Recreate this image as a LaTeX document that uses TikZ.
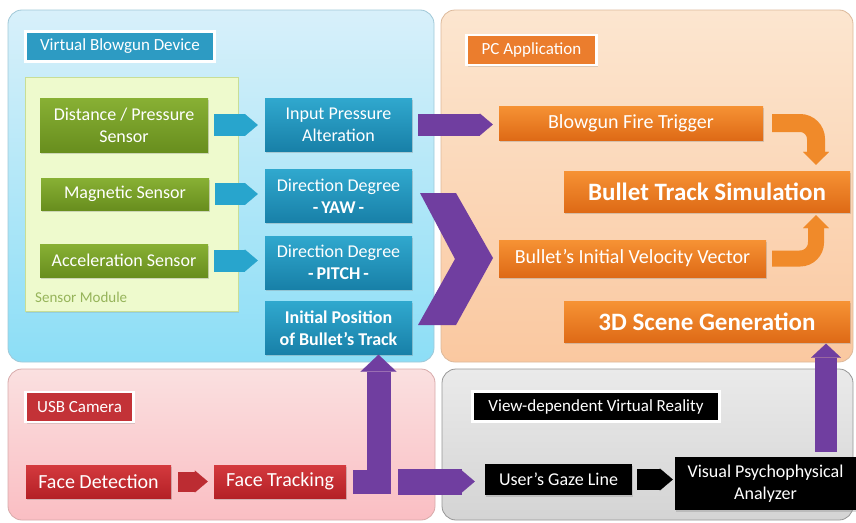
\documentclass[tikz,border=0pt]{standalone}
\usepackage{fontspec}
\setmainfont{Carlito}
\usetikzlibrary{arrows.meta,shadows}
\definecolor{grtop}{RGB}{136,176,52}
\definecolor{grbot}{RGB}{104,142,30}
\definecolor{bltop}{RGB}{48,168,206}
\definecolor{blbot}{RGB}{24,128,168}
\definecolor{ortop}{RGB}{246,146,52}
\definecolor{orbot}{RGB}{222,106,22}
\definecolor{rdtop}{RGB}{212,58,62}
\definecolor{rdbot}{RGB}{180,32,38}
\definecolor{purp}{RGB}{112,62,160}
\definecolor{cyanarrow}{RGB}{40,165,205}
\definecolor{redarrow}{RGB}{188,44,50}
\definecolor{orarrow}{RGB}{240,138,42}
\definecolor{bltag}{RGB}{45,155,195}
\definecolor{ortag}{RGB}{235,125,45}
\definecolor{rdtag}{RGB}{195,50,55}
\definecolor{smtext}{RGB}{150,180,90}
\begin{document}
\begin{tikzpicture}[x=1pt,y=-1pt,
	panel/.style={rounded corners=14pt,line width=0.8pt},
	boxbase/.style={text=white,align=center,inner sep=2pt,
		drop shadow={opacity=.3,shadow xshift=1pt,shadow yshift=-1.5pt}},
	greenbox/.style={boxbase,top color=grtop,bottom color=grbot,minimum width=168pt,
		font=\fontsize{18}{22}\selectfont},
	bluebox/.style={boxbase,top color=bltop,bottom color=blbot,minimum width=147pt,
		minimum height=53pt,font=\fontsize{18}{22}\selectfont},
	orbox/.style={boxbase,top color=ortop,bottom color=orbot,font=\fontsize{20}{24}\selectfont},
	bigbox/.style={orbox,minimum width=286pt,minimum height=41pt,
		font=\fontsize{25}{30}\selectfont\bfseries},
	redbox/.style={boxbase,top color=rdtop,bottom color=rdbot,minimum height=33pt,
		font=\fontsize{20}{24}\selectfont},
	blackbox/.style={boxbase,fill=black,font=\fontsize{18}{22}\selectfont},
	grouptag/.style={draw=white,line width=2.5pt,text=white,inner sep=2pt,minimum height=30pt,
		font=\fontsize{17}{20}\selectfont,
		drop shadow={opacity=.25,shadow xshift=1pt,shadow yshift=-1.5pt}},
	blockarrow/.style={#1,line width=22pt,-{Triangle[length=13pt,width=22pt,line width=.1pt]}}]
\useasboundingbox (0,0) rectangle (856,522);
\path[panel,top color={rgb,255:red,216;green,240;blue,250},bottom color={rgb,255:red,140;green,222;blue,246},
	draw={rgb,255:red,160;green,200;blue,215}] (8,10) rectangle (434,362);
\path[panel,top color={rgb,255:red,252;green,230;blue,208},bottom color={rgb,255:red,250;green,200;blue,160},
	draw={rgb,255:red,220;green,185;blue,155}] (441,10) rectangle (853,362);
\path[panel,top color={rgb,255:red,250;green,224;blue,224},bottom color={rgb,255:red,250;green,190;blue,195},
	draw={rgb,255:red,215;green,170;blue,170}] (8,369) rectangle (435,520);
\path[panel,top color={rgb,255:red,234;green,234;blue,234},bottom color={rgb,255:red,212;green,212;blue,212},
	draw={rgb,255:red,150;green,150;blue,150}] (442,369) rectangle (853,520);
\draw[fill={rgb,255:red,238;green,250;blue,205},draw={rgb,255:red,200;green,222;blue,150},line width=0.8pt,
	drop shadow={opacity=.2,shadow xshift=1pt,shadow yshift=-1.5pt}] (25,77) rectangle (238,311);

\node[grouptag,fill=bltag,minimum width=189pt] (vbd) at (120,46.5) {Virtual Blowgun Device};
\node[grouptag,fill=ortag,minimum width=130pt] (pca) at (531.5,50) {PC Application};
\node[grouptag,fill=rdtag,minimum width=108pt] (usb) at (79.5,407) {USB Camera};
\node[grouptag,fill=black,minimum width=247pt] (vdvr) at (596,406.5) {View-dependent Virtual Reality};
\node[anchor=west,inner sep=0pt,text=smtext,font=\fontsize{15}{18}\selectfont] (sm) at (35,297) {Sensor Module};

\node[greenbox,minimum height=54pt] (dps) at (124,125) {Distance / Pressure\\Sensor};
\node[greenbox,minimum height=32pt] (mag) at (125,194) {Magnetic Sensor};
\node[greenbox,minimum height=33pt] (acc) at (124,260.5) {Acceleration Sensor};

\node[bluebox] (ipa) at (338.5,124.5) {Input Pressure\\Alteration};
\node[bluebox] (yaw) at (338.5,196) {Direction Degree\\\textbf{-\,YAW\,-}};
\node[bluebox] (pitch) at (338.5,262.5) {Direction Degree\\\textbf{-\,PITCH\,-}};
\node[bluebox,font=\fontsize{18}{22}\selectfont\bfseries] (ipos) at (338.5,328) {Initial Position\\of Bullet's Track};

\node[orbox,minimum width=264pt,minimum height=34pt] (fire) at (631,123) {Blowgun Fire Trigger};
\node[bigbox] (bts) at (707,191.5) {Bullet Track Simulation};
\node[orbox,minimum width=267pt,minimum height=37pt] (vel) at (632.5,258.5) {Bullet's Initial Velocity Vector};
\node[bigbox] (scene) at (707,322) {3D Scene Generation};

\node[redbox,minimum width=145pt] (fd) at (98.5,481.5) {Face Detection};
\node[redbox,minimum width=132pt] (ft) at (280,481.5) {Face Tracking};
\node[blackbox,minimum width=147pt,minimum height=31pt] (gaze) at (558.5,479.5) {User's Gaze Line};
\node[blackbox,minimum width=181pt,minimum height=53pt] (vpa) at (765.5,483.5) {Visual Psychophysical\\Analyzer};

\coordinate (turn) at (816,0);
\coordinate (upx) at (826,0);

\draw[blockarrow=cyanarrow,shorten <=6pt,shorten >=7pt] (dps.east) -- (dps.east -| ipa.west);
\draw[blockarrow=cyanarrow,shorten <=6pt,shorten >=7pt] (mag.east) -- (mag.east -| yaw.west);
\draw[blockarrow=cyanarrow,shorten <=6pt,shorten >=7pt] (acc.east) -- (acc.east -| pitch.west);
\draw[blockarrow=purp,shorten <=6pt,shorten >=6pt] (ipa.east) -- (ipa.east -| fire.west);
\fill[purp] (420,193) -- (456,193) -- (493,258) -- (456,325) -- (418,325) -- (455,259) -- cycle;

\draw[orarrow,line width=18pt,rounded corners=16pt,shorten <=9pt,shorten >=6pt,
	-{Triangle[length=13pt,width=26pt,line width=.1pt]}] (fire.east) -| (turn |- bts.north);
\draw[orarrow,line width=16pt,rounded corners=16pt,shorten <=6pt,shorten >=3pt,
	-{Triangle[length=13pt,width=26pt,line width=.1pt]}] (vel.east) -| (turn |- bts.south);

\draw[blockarrow=redarrow,line width=20pt,shorten <=7pt,shorten >=6pt] (fd.east) -- (ft.west);
\draw[blockarrow=black,line width=21pt,shorten <=5pt,shorten >=2pt] (gaze.east) -- (gaze.east -| vpa.west);
\draw[purp,line width=24pt,shorten <=7pt,
	-{Triangle[length=17pt,width=36pt,line width=.1pt]}] (ft.east) -| ([xshift=40pt]ipos.south);
\draw[blockarrow=purp,line width=26pt,shorten <=52pt,shorten >=10pt] (ft.east) -- (ft.east -| gaze.west);
\draw[purp,line width=22pt,shorten <=5pt,shorten >=1pt,
	-{Triangle[length=14pt,width=30pt,line width=.1pt]}] (vpa.north -| upx) -- (scene.south -| upx);
\end{tikzpicture}
\end{document}
